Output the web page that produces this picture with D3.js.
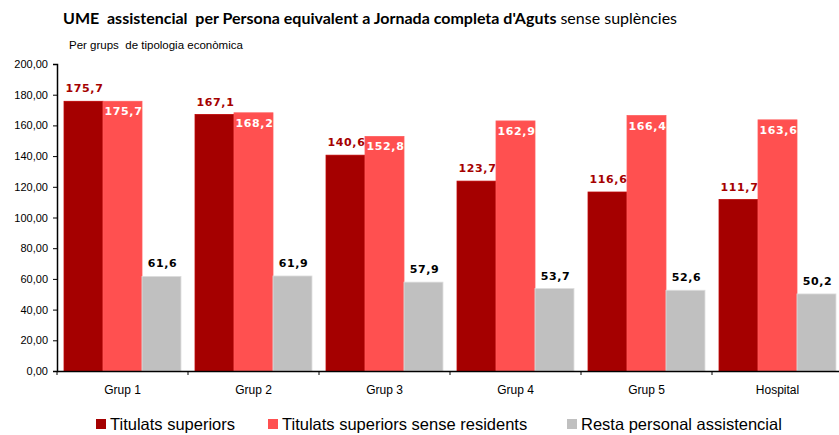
<!DOCTYPE html>
<html>
<head>
<meta charset="utf-8">
<script src="https://cdn.jsdelivr.net/npm/d3@7"></script>
<style>
  body { margin: 0; background: #fff; }
  svg { display: block; }
  text { white-space: pre; }
</style>
</head>
<body>
<div id="chart"></div>
<script>
// Dades del gràfic
const grups = ["Grup 1", "Grup 2", "Grup 3", "Grup 4", "Grup 5", "Hospital"];
const series = ["Titulats superiors", "Titulats superiors sense residents", "Resta personal assistencial"];
const titulats = [175.7, 167.1, 140.6, 123.7, 116.6, 111.7];
const titulatsSenseRes = [175.7, 168.2, 152.8, 162.9, 166.4, 163.6];
const resta = [61.6, 61.9, 57.9, 53.7, 52.6, 50.2];
const yTicks = [0, 20, 40, 60, 80, 100, 120, 140, 160, 180, 200];
const colors = ["#a50000", "#ff5050", "#c0c0c0"];

const valors = [titulats, titulatsSenseRes, resta];
const data = grups.map((g, i) => ({
    grup: g,
    vals: series.map((s, k) => ({ serie: s, k: k, v: valors[k][i] }))
}));

const W = 839, H = 435;
const margin = { top: 64, right: -4, bottom: 64, left: 57 };
const width = W - margin.left - margin.right;
const height = H - margin.top - margin.bottom;

const svg = d3.select("#chart").append("svg")
    .attr("width", W)
    .attr("height", H);

// Títol
const title = svg.append("text")
    .attr("x", 63)
    .attr("y", 24)
    .attr("font-family", "Lato, 'Open Sans', sans-serif")
    .attr("font-size", 16)
    .attr("fill", "#000");
title.append("tspan").attr("font-weight", "bold")
    .text("UME  assistencial  per Persona equivalent a Jornada completa d'Aguts");
title.append("tspan").attr("font-weight", "normal").attr("dx", 4)
    .text("sense suplències");

svg.append("text")
    .attr("x", 69)
    .attr("y", 49)
    .attr("font-family", "'Liberation Sans', Arial, sans-serif")
    .attr("font-size", 11.5)
    .attr("fill", "#000")
    .text("Per grups  de tipologia econòmica");

const g = svg.append("g")
    .attr("transform", `translate(${margin.left},${margin.top})`);

// Escales
const x0 = d3.scaleBand().domain(grups).range([0, width]).padding(0);
const x1 = d3.scaleBand().domain(series).range([0, x0.bandwidth()])
    .paddingInner(0).paddingOuter(0.18);
const y = d3.scaleLinear().domain([0, 200]).range([height, 0]);

// Barres
const grp = g.selectAll(".grp")
    .data(data)
    .enter().append("g")
    .attr("transform", d => `translate(${x0(d.grup)},0)`);

grp.selectAll("rect")
    .data(d => d.vals)
    .enter().append("rect")
    .attr("x", d => x1(d.serie))
    .attr("y", d => y(d.v))
    .attr("width", x1.bandwidth())
    .attr("height", d => height - y(d.v))
    .attr("fill", d => colors[d.k])
    .attr("stroke", d => d3.color(colors[d.k]).brighter(0.4))
    .attr("stroke-width", 0.8);

// Etiquetes
const fmt = v => d3.format(".1f")(v).replace(".", ",");
grp.selectAll(".lbl")
    .data(d => d.vals)
    .enter().append("text")
    .attr("x", d => x1(d.serie) + x1.bandwidth() / 2 + 1)
    .attr("y", d => d.k === 1 ? y(d.v) + 14 : y(d.v) - 9)
    .attr("text-anchor", "middle")
    .attr("font-family", "'DejaVu Sans', Verdana, sans-serif")
    .attr("font-weight", "bold")
    .attr("font-size", 11)
    .attr("letter-spacing", 0.6)
    .attr("fill", d => d.k === 0 ? "#a50000" : d.k === 1 ? "#fff" : "#000")
    .text(d => fmt(d.v));

// Eix Y
const yAxis = g.append("g")
    .call(d3.axisLeft(y).tickValues(yTicks).tickSize(4).tickPadding(5)
        .tickFormat(v => d3.format(".2f")(v).replace(".", ",")));
yAxis.select(".domain").attr("stroke", "#000").attr("stroke-width", 1.5);
yAxis.selectAll("text")
    .attr("font-family", "'Liberation Sans', Arial, sans-serif")
    .attr("font-size", 11)
    .attr("fill", "#000");

// Eix X
const xAxis = g.append("g")
    .attr("transform", `translate(0,${height})`)
    .call(d3.axisBottom(x0).tickSize(0).tickPadding(14));
xAxis.select(".domain").attr("stroke", "#000").attr("stroke-width", 1.5);
xAxis.selectAll("text")
    .attr("font-family", "'Liberation Sans', Arial, sans-serif")
    .attr("font-size", 12)
    .attr("fill", "#000");
xAxis.selectAll(".sep")
    .data(grups)
    .enter().append("line")
    .attr("x1", d => x0(d)).attr("x2", d => x0(d))
    .attr("y1", 0).attr("y2", 4)
    .attr("stroke", "#000");

// Llegenda
const legX = [96, 268, 567];
const leg = svg.selectAll(".leg")
    .data(series)
    .enter().append("g")
    .attr("transform", (d, i) => `translate(${legX[i]},419)`);
leg.append("rect")
    .attr("width", 10).attr("height", 10)
    .attr("fill", (d, i) => colors[i]);
leg.append("text")
    .attr("x", 14)
    .attr("y", 11)
    .attr("font-family", "'Liberation Sans', Arial, sans-serif")
    .attr("font-size", 16.5)
    .attr("fill", "#000")
    .text(d => d);
</script>
</body>
</html>
